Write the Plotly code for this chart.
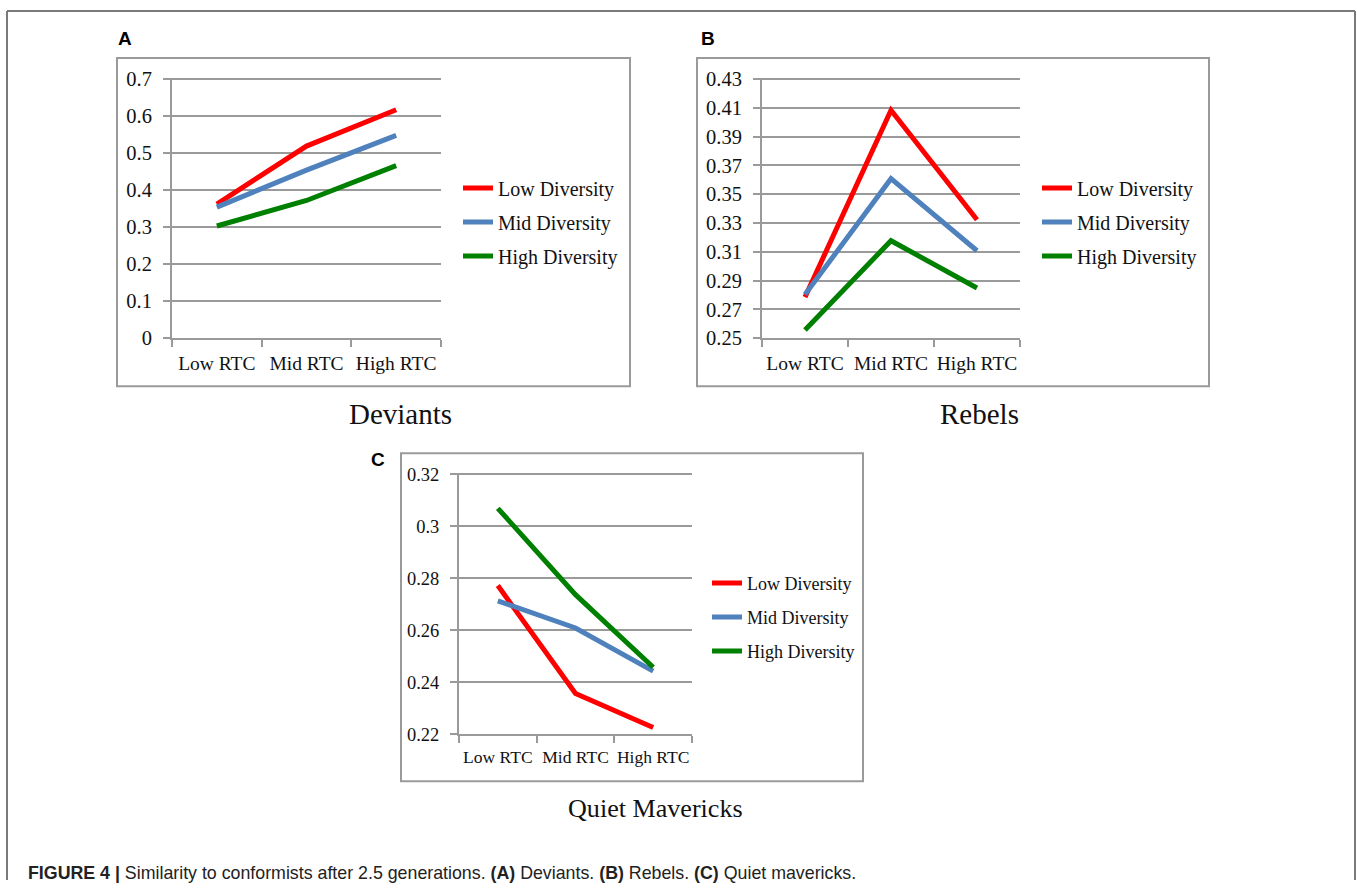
import plotly.graph_objects as go

W, H = 1357, 891

categories = ["Low RTC", "Mid RTC", "High RTC"]
series_names = ["Low Diversity", "Mid Diversity", "High Diversity"]
series_colors = ["#FF0000", "#4F81BD", "#008000"]

deviants_low = [0.362, 0.519, 0.617]
deviants_mid = [0.354, 0.454, 0.548]
deviants_high = [0.303, 0.372, 0.466]

rebels_low = [0.2785, 0.4083, 0.3322]
rebels_mid = [0.2803, 0.3608, 0.3107]
rebels_high = [0.2557, 0.3177, 0.2848]

mavericks_low = [0.2772, 0.2357, 0.2226]
mavericks_mid = [0.2713, 0.2609, 0.2443]
mavericks_high = [0.3069, 0.2737, 0.2458]

ticks_a = [0, 0.1, 0.2, 0.3, 0.4, 0.5, 0.6, 0.7]
ticks_b = [0.25, 0.27, 0.29, 0.31, 0.33, 0.35, 0.37, 0.39, 0.41, 0.43]
ticks_c = [0.22, 0.24, 0.26, 0.28, 0.3, 0.32]
tick_text_a = ["0", "0.1", "0.2", "0.3", "0.4", "0.5", "0.6", "0.7"]
tick_text_b = ["0.25", "0.27", "0.29", "0.31", "0.33", "0.35", "0.37", "0.39", "0.41", "0.43"]
tick_text_c = ["0.22", "0.24", "0.26", "0.28", "0.3", "0.32"]

titles = ["Deviants", "Rebels", "Quiet Mavericks"]
letters = ["A", "B", "C"]
caption = ("<b>FIGURE 4 |</b> Similarity to conformists after 2.5 generations. "
           "<b>(A)</b> Deviants. <b>(B)</b> Rebels. <b>(C)</b> Quiet mavericks.")

GRAY = "#9a9a9a"
SERIF = "Liberation Serif"

# vertical calibration of the photographed page
Y_OFF, Y_SCALE = 9.0, 0.976


def px_x(v):
    return v / W


def px_y(v):
    fy = (v - Y_OFF) / Y_SCALE
    return min(1.0, max(0.0, 1 - fy / H))


# panel geometry in pixels (plot area, box, legend, title, letter) and font scale
panels = [
    dict(plot=(172, 441, 77, 337), box=(117, 630, 57, 385), leg=(458, 187, 34),
         title=(400, 413), letter=(125, 37), fs=1.0,
         data=[deviants_low, deviants_mid, deviants_high],
         ticks=ticks_a, ticktext=tick_text_a, rng=(0, 0.7)),
    dict(plot=(762, 1020, 77, 337), box=(697, 1209, 57, 385), leg=(1037, 187, 34),
         title=(979, 413), letter=(708, 37), fs=1.0,
         data=[rebels_low, rebels_mid, rebels_high],
         ticks=ticks_b, ticktext=tick_text_b, rng=(0.25, 0.43)),
    dict(plot=(459, 692, 472, 733), box=(401, 863, 452, 780), leg=(707, 582, 34),
         title=(655, 807), letter=(378, 458), fs=0.9,
         data=[mavericks_low, mavericks_mid, mavericks_high],
         ticks=ticks_c, ticktext=tick_text_c, rng=(0.22, 0.32)),
]

fig = go.Figure()
shapes = []
annotations = []
layout_extra = {}

leg_idx = 0
for i, p in enumerate(panels):
    n = "" if i == 0 else str(i + 1)
    xa = "x" + n
    ya = "y" + n
    fs = p["fs"]
    for j, (name, color) in enumerate(zip(series_names, series_colors)):
        leg_idx += 1
        lname = "legend" if leg_idx == 1 else "legend%d" % leg_idx
        fig.add_trace(go.Scatter(
            x=categories, y=p["data"][j], mode="lines", name=name,
            line=dict(color=color, width=5),
            xaxis=xa, yaxis=ya, legend=lname, showlegend=True,
            hoverinfo="skip"))
        lx, ly, gap = p["leg"]
        layout_extra[lname] = dict(
            x=px_x(lx), y=px_y(ly + j * gap), xanchor="left", yanchor="middle",
            bgcolor="rgba(0,0,0,0)", borderwidth=0,
            font=dict(family=SERIF, size=20 * fs, color="#111"),
            itemwidth=30, tracegroupgap=0)
    x0, x1, y0, y1 = p["plot"]
    layout_extra["xaxis" + n] = dict(
        domain=[px_x(x0), px_x(x1)], anchor=ya, type="category",
        categoryorder="array", categoryarray=categories,
        range=[-0.5, 2.5], tickson="boundaries", ticks="outside", ticklen=7,
        tickwidth=2, tickcolor=GRAY, showline=True, linecolor=GRAY, linewidth=2,
        showgrid=False, zeroline=False, ticklabelstandoff=6, tickangle=0,
        tickfont=dict(family=SERIF, size=19.5 * fs, color="#111"), fixedrange=True)
    lo, hi = p["rng"]
    span = hi - lo
    layout_extra["yaxis" + n] = dict(
        domain=[px_y(y1), px_y(y0)], anchor=xa,
        range=[lo, hi + span * 0.004], tickmode="array", tickvals=p["ticks"],
        ticktext=p["ticktext"], ticks="outside", ticklen=7, tickwidth=2,
        tickcolor=GRAY, showline=True, linecolor=GRAY, linewidth=2,
        showgrid=True, gridcolor=GRAY, gridwidth=2, zeroline=False,
        ticklabelstandoff=7,
        tickfont=dict(family=SERIF, size=20.5 * fs, color="#111"), fixedrange=True)
    bx0, bx1, by0, by1 = p["box"]
    shapes.append(dict(type="rect", xref="paper", yref="paper",
                       x0=px_x(bx0), x1=px_x(bx1), y0=px_y(by1), y1=px_y(by0),
                       line=dict(color=GRAY, width=2), fillcolor="rgba(0,0,0,0)",
                       layer="below"))
    tx, ty = p["title"]
    annotations.append(dict(text=titles[i], x=px_x(tx), y=px_y(ty), xref="paper",
                            yref="paper", showarrow=False, xanchor="center",
                            yanchor="middle",
                            font=dict(family=SERIF, size=29 * fs, color="#111")))
    lx_, ly_ = p["letter"]
    annotations.append(dict(text="<b>%s</b>" % letters[i], x=px_x(lx_), y=px_y(ly_),
                            xref="paper", yref="paper", showarrow=False,
                            xanchor="center", yanchor="middle",
                            font=dict(family="Liberation Sans", size=19, color="#000")))

annotations.append(dict(text=caption, x=px_x(26), y=px_y(872), xref="paper",
                        yref="paper", showarrow=False, xanchor="left",
                        yanchor="middle",
                        font=dict(family="Liberation Sans", size=17.8, color="#222")))

# outer frame: top, left, right
FRAME = "#7a7a7a"
top_y = 1 - 1.0 / H
shapes.append(dict(type="line", xref="paper", yref="paper", x0=px_x(7), x1=px_x(1355),
                   y0=top_y, y1=top_y, line=dict(color=FRAME, width=2)))
shapes.append(dict(type="line", xref="paper", yref="paper", x0=px_x(7), x1=px_x(7),
                   y0=top_y, y1=0, line=dict(color=FRAME, width=2)))
shapes.append(dict(type="line", xref="paper", yref="paper", x0=px_x(1355), x1=px_x(1355),
                   y0=top_y, y1=0, line=dict(color=FRAME, width=2)))

fig.update_layout(
    width=W, height=H, margin=dict(l=0, r=0, t=0, b=0),
    paper_bgcolor="white", plot_bgcolor="rgba(0,0,0,0)",
    shapes=shapes, annotations=annotations, showlegend=True,
    **layout_extra)

post = ("document.documentElement.style.margin='0';"
        "document.documentElement.style.overflow='hidden';"
        "document.body.style.margin='0';document.body.style.overflow='hidden';"
        "var d=document.getElementById('{plot_id}');"
        "d.style.position='fixed';d.style.top='0px';d.style.left='0px';")

fig.write_html("out.html", config={"displayModeBar": False}, post_script=post)
